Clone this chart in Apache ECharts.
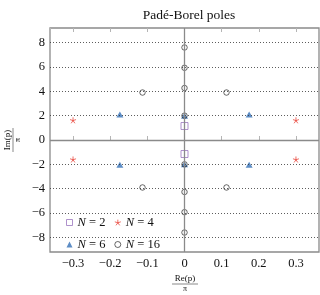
<!DOCTYPE html>
<html><head><meta charset="utf-8">
<script src="https://cdn.jsdelivr.net/npm/echarts@6/dist/echarts.min.js"></script>
<style>html,body{margin:0;padding:0;background:#fff}#c{width:320px;height:295px}</style>
</head><body><div id="c"></div>
<script>
// ---- data ----
const seriesNames = ['N = 2', 'N = 4', 'N = 6', 'N = 16'];
const n2 = [[0, 1.15], [0, -1.15]];
const n4 = [[-0.3, 1.62], [0.3, 1.62], [-0.3, -1.6], [0.3, -1.6]];
const n6 = [[0, 2.0], [0, -2.0], [-0.174, 2.1], [0.174, 2.1], [-0.174, -2.03], [0.174, -2.03]];
const n16 = [[0, 7.6], [0, 5.93], [0, 4.27], [0, 2.0], [0.113, 3.9], [-0.113, 3.9],
             [0, -7.6], [0, -5.93], [0, -4.27], [0, -2.0], [0.113, -3.9], [-0.113, -3.9]];
const yGridTicks = [-8, -6, -4, -2, 2, 4, 6, 8];
const xRange = [-0.362, 0.362];
const yRange = [-9.2, 9.2];

const serif = '"Liberation Serif", "DejaVu Serif", serif';
const frameColor = '#8a8a8a';
const colors = {n2: '#9b77bf', n4: '#e8352a', n6: '#3470b6', n16: '#111'};
const fmtNum = v => { const r = Math.round(v * 10) / 10; return r < 0 ? '\u2212' + Math.abs(r) : String(r); };
const fmtInt = v => { const r = Math.round(v); return r < 0 ? '\u2212' + Math.abs(r) : String(r); };

const chart = echarts.init(document.getElementById('c'), null, {renderer: 'canvas'});
const starPath = 'path://M0,0L0,-10M0,0L9.51,-3.09M0,0L5.88,8.09M0,0L-5.88,8.09M0,0L-9.51,-3.09';

const gridMarks = yGridTicks.map(v => ({yAxis: v, lineStyle: {type: [1, 2], color: '#333', width: 0.8}}));
gridMarks.push({yAxis: 0, lineStyle: {type: 'solid', color: frameColor, width: 1.3}});
gridMarks.push({xAxis: 0, lineStyle: {type: 'solid', color: frameColor, width: 1.3}});

chart.setOption({
  animation: false,
  title: {
    text: 'Padé-Borel poles', left: 184, top: 3, textAlign: 'center',
    textStyle: {fontFamily: serif, fontSize: 13.5, fontWeight: 'normal', color: '#111'}
  },
  grid: {left: 50, right: 1, top: 28, bottom: 43, show: true, borderColor: frameColor, borderWidth: 1.3, backgroundColor: 'transparent'},
  legend: {
    data: [
      {name: seriesNames[0], icon: 'rect', itemStyle: {color: 'rgba(0,0,0,0)', borderColor: colors.n2, borderWidth: 1}},
      {name: seriesNames[1], icon: starPath, itemStyle: {color: 'rgba(0,0,0,0)', borderColor: colors.n4, borderWidth: 0.9}},
      {name: seriesNames[2], icon: 'triangle', itemStyle: {color: colors.n6, borderWidth: 0}},
      {name: seriesNames[3], icon: 'circle', itemStyle: {color: 'rgba(0,0,0,0)', borderColor: colors.n16, borderWidth: 0.8}}
    ],
    left: 61, top: 211, width: 110, orient: 'horizontal',
    itemWidth: 6, itemHeight: 6, itemGap: 9,
    formatter: n => '{i|N}' + n.slice(1),
    textStyle: {fontFamily: serif, fontSize: 12.5, color: '#111', lineHeight: 8,
      rich: {i: {fontFamily: serif, fontSize: 12.5, fontStyle: 'italic', lineHeight: 8}}}
  },
  xAxis: [{
    type: 'value', min: xRange[0], max: xRange[1], splitNumber: 7,
    axisLine: {show: false}, splitLine: {show: false},
    axisTick: {show: true, inside: true, length: 4, lineStyle: {color: '#b5b5b5', width: 1}},
    axisLabel: {fontFamily: serif, fontSize: 12.5, color: '#111', margin: 5, showMinLabel: false, showMaxLabel: false, formatter: fmtNum}
  }, {
    type: 'value', position: 'top', min: xRange[0], max: xRange[1], splitNumber: 7,
    axisLine: {show: false}, splitLine: {show: false},
    axisTick: {show: true, inside: true, length: 4, lineStyle: {color: '#b5b5b5', width: 1}},
    axisLabel: {show: false}
  }],
  yAxis: {
    type: 'value', min: yRange[0], max: yRange[1], splitNumber: 9,
    axisLine: {show: false}, splitLine: {show: false}, axisTick: {show: false},
    axisLabel: {fontFamily: serif, fontSize: 12.5, color: '#111', margin: 5, showMinLabel: false, showMaxLabel: false, formatter: fmtInt}
  },
  series: [
    {type: 'line', name: 'gridlines', data: [], z: 1, silent: true,
     markLine: {silent: true, symbol: ['none', 'none'], label: {show: false}, data: gridMarks, animation: false}},
    {type: 'scatter', name: seriesNames[0], data: n2, z: 3, symbol: 'rect', symbolSize: 7,
     itemStyle: {color: 'rgba(0,0,0,0)', borderColor: colors.n2, borderWidth: 1}},
    {type: 'scatter', name: seriesNames[1], data: n4, z: 3, symbol: starPath, symbolSize: 6,
     itemStyle: {color: 'rgba(0,0,0,0)', borderColor: colors.n4, borderWidth: 0.9}},
    {type: 'scatter', name: seriesNames[2], data: n6, z: 3, symbol: 'triangle', symbolSize: [7, 6],
     itemStyle: {color: colors.n6}},
    {type: 'scatter', name: seriesNames[3], data: n16, z: 4, symbol: 'circle', symbolSize: 5.5,
     itemStyle: {color: 'rgba(0,0,0,0)', borderColor: colors.n16, borderWidth: 0.8}}
  ],
  graphic: [
    {type: 'group', x: 185, y: 284, children: [
      {type: 'text', x: 0, y: -5, style: {text: 'Re(p)', font: '9px ' + serif, fill: '#111', align: 'center', verticalAlign: 'middle'}},
      {type: 'line', shape: {x1: -13, y1: 0, x2: 13, y2: 0}, style: {stroke: '#111', lineWidth: 0.5}},
      {type: 'text', x: 0, y: 4.5, style: {text: 'π', font: '8px ' + serif, fill: '#111', align: 'center', verticalAlign: 'middle'}}
    ]},
    {type: 'group', x: 13, y: 140, rotation: Math.PI / 2, children: [
      {type: 'text', x: 0, y: -5, style: {text: 'Im(p)', font: '9px ' + serif, fill: '#111', align: 'center', verticalAlign: 'middle'}},
      {type: 'line', shape: {x1: -12, y1: 0, x2: 12, y2: 0}, style: {stroke: '#111', lineWidth: 0.5}},
      {type: 'text', x: 0, y: 4.5, style: {text: 'π', font: '8px ' + serif, fill: '#111', align: 'center', verticalAlign: 'middle'}}
    ]}
  ]
});
</script></body></html>
